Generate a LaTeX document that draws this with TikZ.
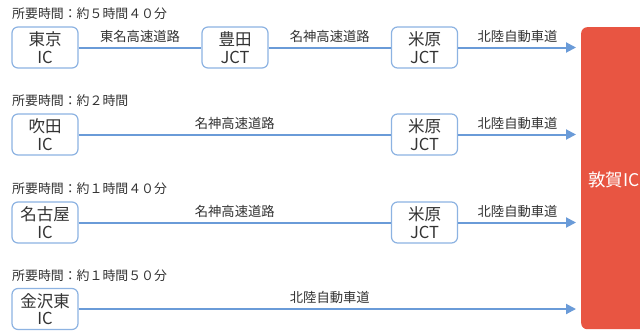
\documentclass[tikz,border=0pt]{standalone}
\usepackage{fontspec}
\setmainfont{Noto Sans CJK JP}
\usetikzlibrary{arrows.meta}
\definecolor{boxline}{HTML}{8DB3E2}
\definecolor{roadc}{HTML}{6A9BD8}
\definecolor{goal}{HTML}{E85542}
\definecolor{ink}{HTML}{333333}
\begin{document}
\begin{tikzpicture}[x=1pt,y=-1pt,
  ic/.style={draw=boxline, line width=1.2pt, rounded corners=6pt, fill=white,
    minimum width=66pt, minimum height=41pt, inner sep=0pt, align=center,
    font=\fontsize{16.5}{17.5}\selectfont, text=ink},
  roadline/.style={draw=roadc, line width=2pt},
  goalarrow/.style={roadline, -{Triangle[length=10pt,width=10pt]}, shorten >=5pt},
  roadlabel/.style={font=\fontsize{13.3}{15}\selectfont, text=ink, above=4pt, inner sep=0pt},
  timelabel/.style={font=\fontsize{12.9}{14}\selectfont, anchor=west, inner sep=0pt, text=ink}]
\clip (0,0) rectangle (640,330);
\fill[white] (0,0) rectangle (640,330);
% goal
\node[fill=goal, rounded corners=6pt, minimum width=120pt, minimum height=302pt,
  anchor=north west, inner sep=0pt] (tsuruga) at (581,27) {};
\node[anchor=west, text=white, font=\fontsize{17.5}{18.5}\selectfont, inner sep=0pt] (tsurugatext) at (588,180) {敦賀IC};
% time labels
\node[timelabel] (t1) at (12,14) {所要時間：約５時間４０分};
\node[timelabel] (t2) at (12,101) {所要時間：約２時間};
\node[timelabel] (t3) at (12,189) {所要時間：約１時間４０分};
\node[timelabel] (t4) at (12,276) {所要時間：約１時間５０分};
% row 1
\node[ic] (tokyo) at (45,47.5) {東京\\IC};
\node[ic] (toyota) at (235,47.5) {豊田\\JCT};
\node[ic] (maibara1) at (424.5,47.5) {米原\\JCT};
\draw[roadline] (tokyo) -- node[roadlabel] {東名高速道路} (toyota);
\draw[roadline] (toyota) -- node[roadlabel] {名神高速道路} (maibara1);
\draw[goalarrow] (maibara1) -- node[roadlabel, xshift=-2pt] {北陸自動車道} (tsuruga.west |- maibara1);
% row 2
\node[ic] (suita) at (45,134.5) {吹田\\IC};
\node[ic] (maibara2) at (424.5,134.5) {米原\\JCT};
\draw[roadline] (suita) -- node[roadlabel] {名神高速道路} (maibara2);
\draw[goalarrow] (maibara2) -- node[roadlabel, xshift=-2pt] {北陸自動車道} (tsuruga.west |- maibara2);
% row 3
\node[ic] (nagoya) at (45,222.5) {名古屋\\IC};
\node[ic] (maibara3) at (424.5,222.5) {米原\\JCT};
\draw[roadline] (nagoya) -- node[roadlabel] {名神高速道路} (maibara3);
\draw[goalarrow] (maibara3) -- node[roadlabel, xshift=-2pt] {北陸自動車道} (tsuruga.west |- maibara3);
% row 4
\node[ic] (kanazawa) at (45,309) {金沢東\\IC};
\draw[goalarrow] (kanazawa) -- node[roadlabel] {北陸自動車道} (tsuruga.west |- kanazawa);
\end{tikzpicture}
\end{document}
